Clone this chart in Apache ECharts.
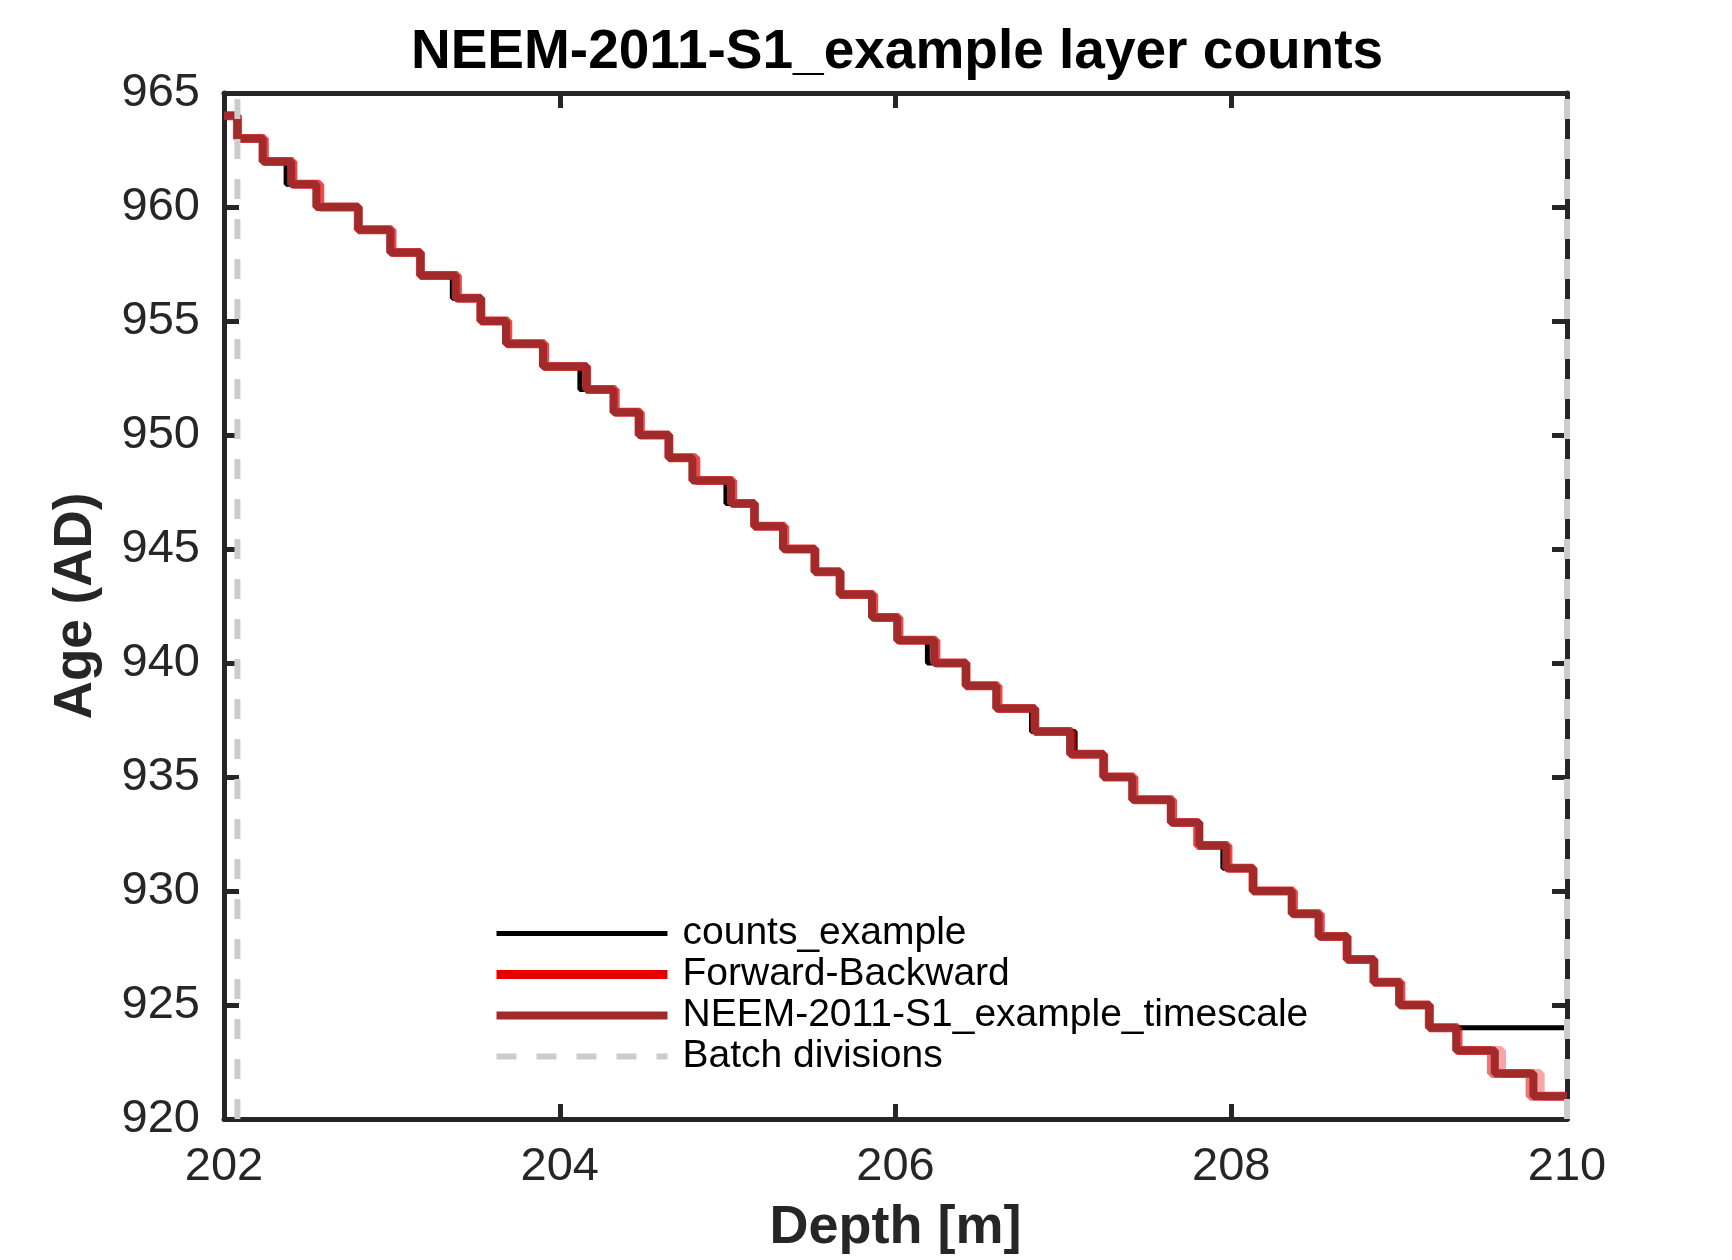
<!DOCTYPE html>
<html>
<head>
<meta charset="utf-8">
<title>NEEM-2011-S1_example layer counts</title>
<script src="https://cdn.jsdelivr.net/npm/echarts@6/dist/echarts.min.js"></script>
<style>
  html, body { margin: 0; padding: 0; background: #fff; }
  #chart { width: 1732px; height: 1260px; }
</style>
</head>
<body>
<div id="chart"></div>
<script>
// depth range [m] and age range (AD)
const DEPTH_MIN = 202, DEPTH_MAX = 210;
const AGE_MIN = 920, AGE_MAX = 965;
const START_AGE = 964;

const xTicks = [202, 204, 206, 208, 210];
const yTicks = [920, 925, 930, 935, 940, 945, 950, 955, 960, 965];

// depths where each layer boundary sits (age drops by one year)
const timescaleEdges = [
  202.08, 202.23, 202.40, 202.55, 202.80, 202.99, 203.17, 203.38, 203.53, 203.68,
  203.90, 204.16, 204.32, 204.47, 204.65, 204.79, 205.02, 205.16, 205.33, 205.52,
  205.67, 205.86, 206.01, 206.23, 206.42, 206.60, 206.83, 207.04, 207.24, 207.41,
  207.64, 207.81, 207.97, 208.13, 208.36, 208.52, 208.69, 208.85, 209.00, 209.18,
  209.34, 209.57, 209.80
];
const countsEdges = [
  202.08, 202.23, 202.37, 202.55, 202.80, 202.99, 203.17, 203.36, 203.53, 203.68,
  203.90, 204.12, 204.32, 204.48, 204.65, 204.79, 204.99, 205.16, 205.33, 205.52,
  205.67, 205.86, 206.01, 206.19, 206.42, 206.60, 206.81, 207.07, 207.24, 207.41,
  207.64, 207.81, 207.95, 208.13, 208.36, 208.52, 208.69, 208.85, 209.00, 209.18
];
const fbEdges = [
  202.08, 202.24, 202.41, 202.57, 202.80, 203.00, 203.17, 203.39, 203.53, 203.69,
  203.91, 204.16, 204.33, 204.48, 204.65, 204.81, 205.03, 205.16, 205.34, 205.52,
  205.67, 205.87, 206.02, 206.24, 206.42, 206.61, 206.83, 207.05, 207.24, 207.42,
  207.65, 207.80, 207.98, 208.13, 208.37, 208.53, 208.69, 208.85, 209.01, 209.18,
  209.35, 209.55, 209.78
];
const fbAltTail = [209.61, 209.84];
const batchDepths = [202.08, 210];

const FONT = '"Liberation Sans", Arial, Helvetica, sans-serif';
const AXIS_COLOR = '#262626';

function stepData(edges, startAge) {
  const pts = [[DEPTH_MIN, startAge]];
  edges.forEach((d, i) => pts.push([d, startAge - i - 1]));
  pts.push([DEPTH_MAX, startAge - edges.length]);
  return pts;
}

function batchData(depths) {
  const pts = [];
  depths.forEach((d, i) => {
    if (i > 0) pts.push(['-', '-']);
    pts.push([d, AGE_MIN], [d, AGE_MAX]);
  });
  return pts;
}

function lineSeries(name, data, color, width, opacity) {
  return {
    name: name,
    type: 'line',
    step: 'end',
    data: data,
    symbol: 'none',
    showSymbol: false,
    lineStyle: { color: color, width: width, opacity: opacity == null ? 1 : opacity },
    // no point markers anywhere (also keeps them out of the legend icons)
    itemStyle: { color: color, opacity: 0 }
  };
}

const chart = echarts.init(document.getElementById('chart'));

const baseX = {
  type: 'value', min: DEPTH_MIN, max: DEPTH_MAX, interval: 2,
  axisLine: { show: true, lineStyle: { color: AXIS_COLOR, width: 5 } },
  axisTick: { show: true, inside: true, length: 15, lineStyle: { color: AXIS_COLOR, width: 5 } },
  splitLine: { show: false }
};
const baseY = {
  type: 'value', min: AGE_MIN, max: AGE_MAX, interval: 5,
  axisLine: { show: true, lineStyle: { color: AXIS_COLOR, width: 5 } },
  axisTick: { show: true, inside: true, length: 15, lineStyle: { color: AXIS_COLOR, width: 5 } },
  splitLine: { show: false }
};

const fbFirst = fbEdges.slice(0, fbEdges.length - fbAltTail.length);

const option = {
  animation: false,
  backgroundColor: '#fff',
  textStyle: { fontFamily: FONT },
  title: {
    text: 'NEEM-2011-S1_example layer counts',
    left: 892,
    top: 20,
    textAlign: 'center',
    textVerticalAlign: 'top',
    textStyle: { fontFamily: FONT, fontSize: 55, fontWeight: 'bold', color: '#000' }
  },
  grid: { left: 224, right: 165, top: 93, bottom: 136 },
  xAxis: [
    Object.assign({}, baseX, {
      position: 'bottom',
      name: 'Depth [m]',
      nameLocation: 'middle',
      nameGap: 82,
      nameTextStyle: { fontFamily: FONT, fontSize: 54, fontWeight: 'bold', color: AXIS_COLOR },
      axisLabel: {
        margin: 25, fontSize: 47, color: AXIS_COLOR, fontFamily: FONT,
        formatter: v => (xTicks.includes(v) ? String(v) : '')
      }
    }),
    Object.assign({}, baseX, { position: 'top', axisLabel: { show: false } })
  ],
  yAxis: [
    Object.assign({}, baseY, {
      position: 'left',
      name: 'Age (AD)',
      nameLocation: 'middle',
      nameRotate: 90,
      nameGap: 121,
      nameTextStyle: { fontFamily: FONT, fontSize: 53, fontWeight: 'bold', color: AXIS_COLOR },
      axisLabel: {
        margin: 24, fontSize: 47, color: AXIS_COLOR, fontFamily: FONT,
        formatter: v => (yTicks.includes(v) ? String(v) : '')
      }
    }),
    Object.assign({}, baseY, { position: 'right', axisLabel: { show: false } })
  ],
  legend: {
    data: ['counts_example', 'Forward-Backward', 'NEEM-2011-S1_example_timescale', 'Batch divisions'],
    orient: 'vertical',
    left: 492,
    top: 913,
    itemWidth: 171,
    itemHeight: 20,
    itemGap: 0,
    padding: 0,
    selectedMode: false,
    itemStyle: { opacity: 0 },
    lineStyle: { width: 'inherit', opacity: 1 },
    textStyle: { fontFamily: FONT, fontSize: 39, color: '#000', lineHeight: 41, padding: [0, 0, 0, 10] }
  },
  series: [
    lineSeries('counts_example', stepData(countsEdges, START_AGE), '#000000', 5),
    lineSeries('Forward-Backward', stepData(fbEdges, START_AGE), '#e60000', 9, 0.55),
    lineSeries('Forward-Backward', stepData(fbFirst.concat(fbAltTail), START_AGE), '#e60000', 9, 0.35),
    lineSeries('NEEM-2011-S1_example_timescale', stepData(timescaleEdges, START_AGE), '#a32a2b', 8),
    {
      name: 'Batch divisions',
      type: 'line',
      data: batchData(batchDepths),
      symbol: 'none',
      showSymbol: false,
      clip: false,
      connectNulls: false,
      z: 5,
      lineStyle: { color: '#cccccc', width: 6, type: [20, 20] },
      itemStyle: { color: '#cccccc', opacity: 0 }
    }
  ]
};

chart.setOption(option);
</script>
</body>
</html>
